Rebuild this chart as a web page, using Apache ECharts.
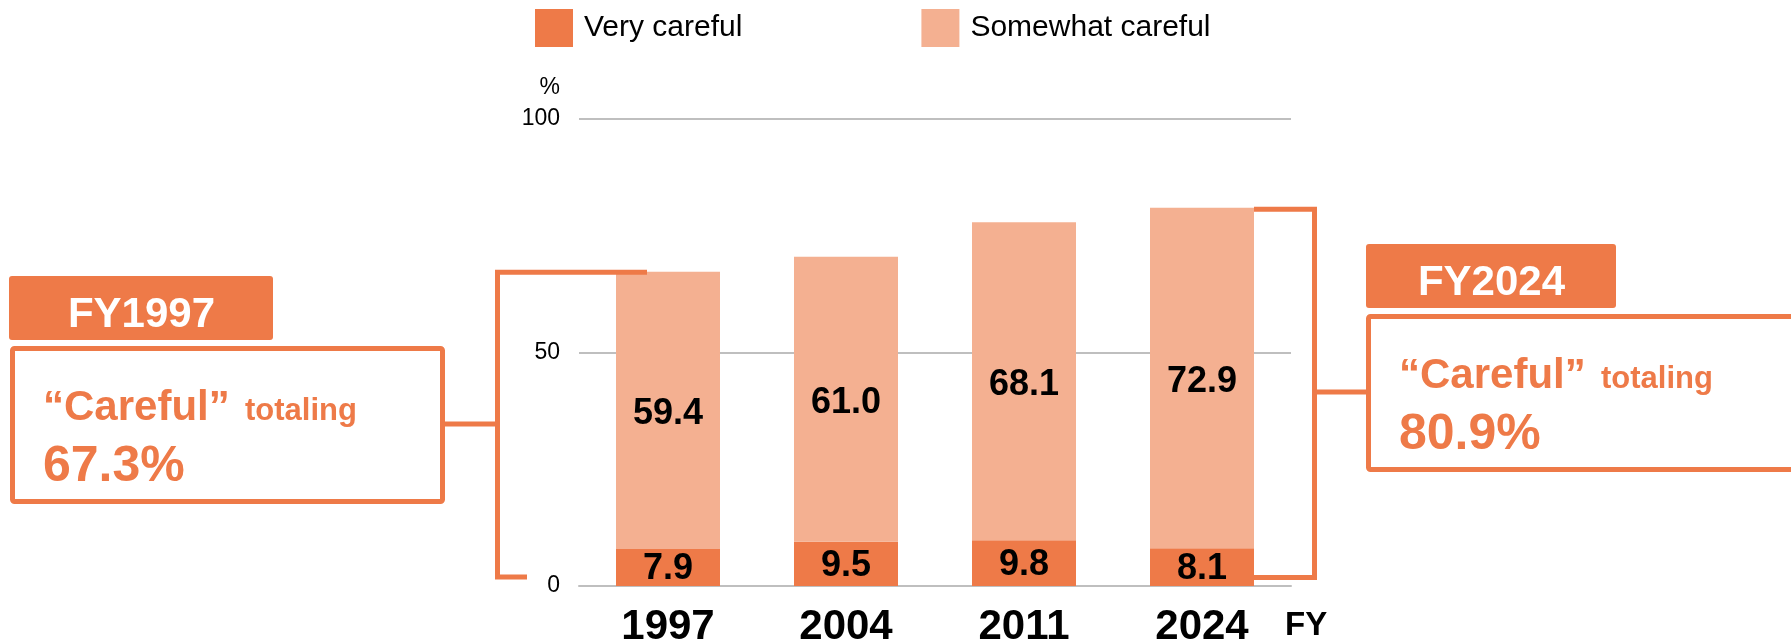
<!DOCTYPE html>
<html>
<head>
<meta charset="utf-8">
<script src="https://cdn.jsdelivr.net/npm/echarts@6.0.0/dist/echarts.min.js"></script>
<style>
  html, body { margin: 0; padding: 0; background: #fff; }
  #main { width: 1791px; height: 641px; }
</style>
</head>
<body>
<div id="main"></div>
<script>
var years = ['1997', '2004', '2011', '2024'];
var veryCareful = [7.9, 9.5, 9.8, 8.1];
var somewhatCareful = [59.4, 61.0, 68.1, 72.9];
var yTicks = [0, 50, 100];
// callouts: which bar, and the printed total
var calloutIndex = [0, 3];
var calloutTotals = [67.3, 80.9];

var FONT = '"Liberation Sans", Arial, sans-serif';
var DARK = '#EE7A48';
var LIGHT = '#F4B091';

var chart = echarts.init(document.getElementById('main'));

chart.setOption({
    animation: false,
    textStyle: { fontFamily: FONT },
    grid: { left: 579, right: 500, top: 119, bottom: 55, containLabel: false, outerBoundsMode: 'none' },
    legend: {
        left: 535, top: 9, padding: 0,
        itemWidth: 38, itemHeight: 38, itemGap: 179,
        icon: 'rect',
        textStyle: { fontSize: 30, color: '#000', fontFamily: FONT, padding: [4, 0, 0, 6] },
        data: ['Very careful', 'Somewhat careful']
    },
    xAxis: {
        type: 'category',
        data: years,
        axisLine: { lineStyle: { color: '#BFBFBF', width: 2 } },
        axisTick: { show: false },
        axisLabel: { fontSize: 42, fontWeight: 'bold', color: '#000', margin: 20, fontFamily: FONT }
    },
    yAxis: {
        type: 'value',
        min: yTicks[0], max: yTicks[yTicks.length - 1], interval: yTicks[1] - yTicks[0],
        name: '%',
        nameLocation: 'end',
        nameGap: 20,
        nameTextStyle: { fontSize: 23, color: '#000', align: 'right', padding: [0, 19, 0, 0], fontFamily: FONT },
        axisLine: { show: false },
        axisTick: { show: false },
        axisLabel: { fontSize: 23, color: '#000', margin: 19, fontFamily: FONT },
        splitLine: { lineStyle: { color: '#BFBFBF', width: 2 } }
    },
    series: [
        {
            name: 'Very careful', type: 'bar', stack: 'total', barWidth: 104,
            data: veryCareful,
            itemStyle: { color: DARK },
            label: {
                show: true, position: 'inside', color: '#000', fontSize: 36, fontWeight: 'bold',
                fontFamily: FONT, offset: [0, 2],
                formatter: function (p) { return p.value.toFixed(1); }
            }
        },
        {
            name: 'Somewhat careful', type: 'bar', stack: 'total', barWidth: 104,
            data: somewhatCareful,
            itemStyle: { color: LIGHT },
            label: {
                show: true, position: 'inside', color: '#000', fontSize: 36, fontWeight: 'bold',
                fontFamily: FONT, offset: [0, 4],
                formatter: function (p) { return p.value.toFixed(1); }
            }
        }
    ]
});

// callout boxes with brackets
function px(i, v) { return chart.convertToPixel({ gridIndex: 0 }, [i, v]); }

var graphics = [];
var base = px(0, 0)[1];
var halfBar = 52;

function txt(s, x, y, size, color, align) {
    graphics.push({
        type: 'text', z: 100,
        style: {
            text: s, x: x, y: y, fill: color, textAlign: align || 'left', textVerticalAlign: 'middle',
            font: 'bold ' + size + 'px ' + FONT
        }
    });
}

function callout(k, side, boxX, boxY, boxW, tagW) {
    var i = calloutIndex[k];
    var top = px(i, calloutTotals[k]);
    var cx = top[0];
    var bx, p;
    if (side === 'left') {
        bx = cx - halfBar - 118.5;
        p = [[cx - halfBar + 31, top[1] + 0.5], [bx, top[1] + 0.5], [bx, base - 9], [cx - halfBar - 89, base - 9]];
    } else {
        bx = cx + halfBar + 60.5;
        p = [[cx + halfBar, top[1] + 1], [bx, top[1] + 1], [bx, base - 8.5], [cx + halfBar, base - 8.5]];
    }
    graphics.push({ type: 'polyline', z: 100, shape: { points: p }, style: { stroke: DARK, lineWidth: 5, fill: null } });
    // connector
    var cy = boxY + 78;
    var x1 = side === 'left' ? boxX + boxW : bx;
    var x2 = side === 'left' ? bx : boxX;
    graphics.push({ type: 'line', z: 100, shape: { x1: x1, y1: cy, x2: x2, y2: cy }, style: { stroke: DARK, lineWidth: 5 } });
    // tag
    var tagY = boxY - 70;
    graphics.push({ type: 'rect', z: 100, shape: { x: boxX - (side === 'left' ? 1 : 0), y: tagY, width: tagW, height: 64, r: 3 }, style: { fill: DARK } });
    txt('FY' + years[i], boxX - (side === 'left' ? 1 : 0) + tagW / 2 + 0.5, tagY + 39, 42, '#fff', 'center');
    // box
    graphics.push({ type: 'rect', z: 100, shape: { x: boxX + 2.5, y: boxY + 2.5, width: boxW - 5, height: 153, r: 2 }, style: { fill: null, stroke: DARK, lineWidth: 5 } });
    txt('\u201cCareful\u201d', boxX + 33, boxY + 62, 42, DARK);
    txt('totaling', boxX + 235, boxY + 65, 31, DARK);
    txt(calloutTotals[k].toFixed(1) + '%', boxX + 33, boxY + 121, 50, DARK);
}

callout(0, 'left', 10, 346, 435, 264);
callout(1, 'right', 1366, 314, 440, 250);

// FY label after the last category
graphics.push({
    type: 'text', z: 100,
    style: { text: 'FY', x: 1285, y: base + 40, fill: '#000', textVerticalAlign: 'middle', font: 'bold 33px ' + FONT }
});

chart.setOption({ graphic: graphics });
</script>
</body>
</html>
